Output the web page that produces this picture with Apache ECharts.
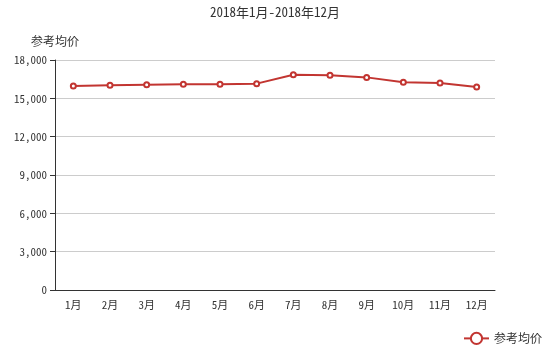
<!DOCTYPE html>
<html>
<head>
<meta charset="utf-8">
<script src="https://cdn.jsdelivr.net/npm/echarts@6/dist/echarts.min.js"></script>
<style>
  html, body { margin: 0; padding: 0; background: #fff; }
  #chart { width: 550px; height: 350px; }
</style>
</head>
<body>
<div id="chart"></div>
<script>
// Monthly reference average price, Jan–Dec 2018
const months = ['1月', '2月', '3月', '4月', '5月', '6月', '7月', '8月', '9月', '10月', '11月', '12月'];
const avgPrice = [15960, 16020, 16070, 16100, 16110, 16150, 16850, 16800, 16640, 16250, 16200, 15890];
const seriesName = '参考均价';
const titleText = '2018年1月-2018年12月';

const FONT = '"Noto Sans Mono CJK JP", "Noto Sans CJK JP", monospace';

const chart = echarts.init(document.getElementById('chart'));
chart.setOption({
  animation: false,
  textStyle: { fontFamily: FONT },
  title: {
    text: titleText,
    left: 'center',
    top: 1,
    textStyle: { fontSize: 13, fontWeight: 'normal', color: '#333', fontFamily: FONT }
  },
  legend: {
    data: [seriesName],
    right: 3,
    bottom: 0,
    itemWidth: 25,
    itemHeight: 14,
    itemGap: 6,
    textStyle: { fontSize: 12, color: '#333', fontFamily: FONT }
  },
  grid: { left: 55, right: 55, top: 60, bottom: 60 },
  xAxis: {
    type: 'category',
    data: months,
    axisLine: { lineStyle: { color: '#333' } },
    axisTick: { lineStyle: { color: '#333' } },
    axisLabel: { fontSize: 11, color: '#333', margin: 9, fontFamily: FONT }
  },
  yAxis: {
    type: 'value',
    name: seriesName,
    nameGap: 13,
    nameTextStyle: { fontSize: 12, color: '#333', fontFamily: FONT },
    min: 0,
    max: 18000,
    interval: 3000,
    axisLine: { show: true, lineStyle: { color: '#333' } },
    axisTick: { show: true, lineStyle: { color: '#333' } },
    axisLabel: {
      fontSize: 11, color: '#333', fontFamily: FONT,
      formatter: v => v.toLocaleString('en-US')
    },
    splitLine: { lineStyle: { color: '#ccc' } }
  },
  series: [{
    name: seriesName,
    type: 'line',
    data: avgPrice,
    symbol: 'emptyCircle',
    symbolSize: 5,
    lineStyle: { width: 2, color: '#c23531' },
    itemStyle: { color: '#c23531' }
  }]
});
</script>
</body>
</html>
